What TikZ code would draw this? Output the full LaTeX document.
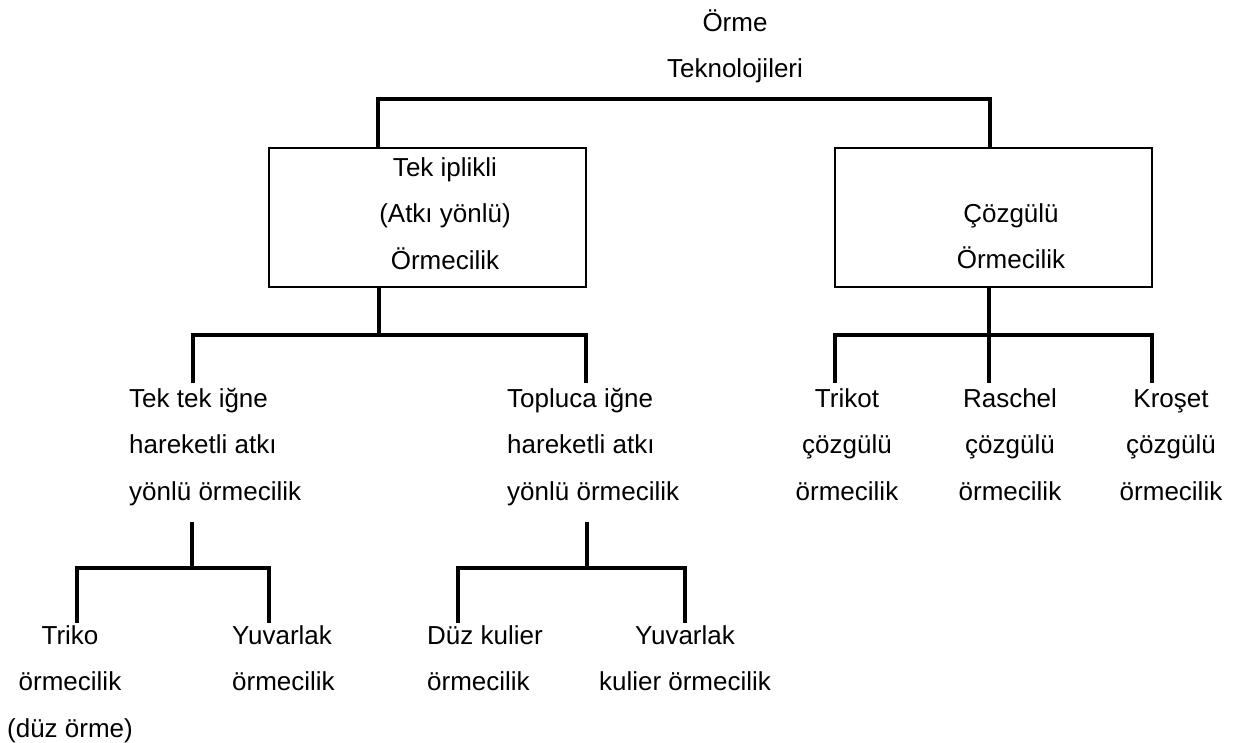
\documentclass[tikz,border=0pt]{standalone}
\usepackage{fontspec}
\setmainfont{Liberation Sans}
\newcommand{\mystrut}{\rule{0pt}{24pt}}
\begin{document}
\begin{tikzpicture}[x=1pt,y=-1pt,
  conn/.style={line width=4.6pt},
  box/.style={draw, line width=2.2pt, inner sep=0pt, outer sep=0pt, minimum width=317pt, minimum height=139pt},
  txt/.style={font=\fontsize{26}{46.5}\selectfont, inner sep=0pt, anchor=north},
  txtc/.style={txt, align=center},
  txtl/.style={txt, align=left, anchor=north west}]
\useasboundingbox (0,0) rectangle (1240,743);
% title
\node[txtc] (root) at (735,7) {\mystrut Örme\\Teknolojileri};
% boxes
\node[box] (b1) at (427.5,217.5) {};
\node[box] (b2) at (993.5,217.5) {};
\node[txtc] (t1) at (445,152) {\mystrut Tek iplikli\\(Atkı yönlü)\\Örmecilik};
\node[txtc] (t2) at (1011,198) {\mystrut Çözgülü\\Örmecilik};
% second row
\node[txtl] (n1) at (129,383) {\mystrut Tek tek iğne\\hareketli atkı\\yönlü örmecilik};
\node[txtl] (n2) at (507,383) {\mystrut Topluca iğne\\hareketli atkı\\yönlü örmecilik};
\node[txtc] (n3) at (847,383) {\mystrut Trikot\\çözgülü\\örmecilik};
\node[txtc] (n4) at (1010,383) {\mystrut Raschel\\çözgülü\\örmecilik};
\node[txtc] (n5) at (1171,383) {\mystrut Kroşet\\çözgülü\\örmecilik};
% third row
\node[txtc] (m1) at (70,620) {\mystrut Triko\\örmecilik\\(düz örme)};
\node[txtl] (m2) at (232,620) {\mystrut Yuvarlak\\örmecilik};
\node[txtl] (m3) at (427,620) {\mystrut Düz kulier\\örmecilik};
\node[txtc] (m4) at (685,620) {\mystrut Yuvarlak\\kulier örmecilik};
% connector coordinates
\coordinate (tL) at (378,99);
\coordinate (tR) at (990,99);
\coordinate (jA) at (379,335);
\coordinate (xA1) at (193,0); \coordinate (xA2) at (586,0);
\coordinate (jB) at (989,335);
\coordinate (xB1) at (835,0); \coordinate (xB2) at (1152,0);
\coordinate (sC) at (192,522); \coordinate (jC) at (192,568);
\coordinate (xC1) at (77,0); \coordinate (xC2) at (269,0);
\coordinate (sD) at (587,522); \coordinate (jD) at (587,568);
\coordinate (xD1) at (458,0); \coordinate (xD2) at (685,0);
% top connector
\draw[conn] (b1.north -| tL) -- (tL) -- (tR) -- (b2.north -| tR);
% left box children
\draw[conn] (b1.south -| jA) -- (jA);
\draw[conn] (n1.north -| xA1) -- (jA -| xA1) -- (jA -| xA2) -- (n2.north -| xA2);
% right box children
\draw[conn] (b2.south -| jB) -- (jB);
\draw[conn] (n3.north -| xB1) -- (jB -| xB1) -- (jB -| xB2) -- (n5.north -| xB2);
\draw[conn] (jB) -- (n4.north -| jB);
% third row connectors
\draw[conn] (sC) -- (jC);
\draw[conn] ([yshift=-3pt]m1.north -| xC1) -- (jC -| xC1) -- (jC -| xC2) -- ([yshift=-3pt]m2.north -| xC2);
\draw[conn] (sD) -- (jD);
\draw[conn] ([yshift=-3pt]m3.north -| xD1) -- (jD -| xD1) -- (jD -| xD2) -- ([yshift=-3pt]m4.north -| xD2);
\end{tikzpicture}
\end{document}
